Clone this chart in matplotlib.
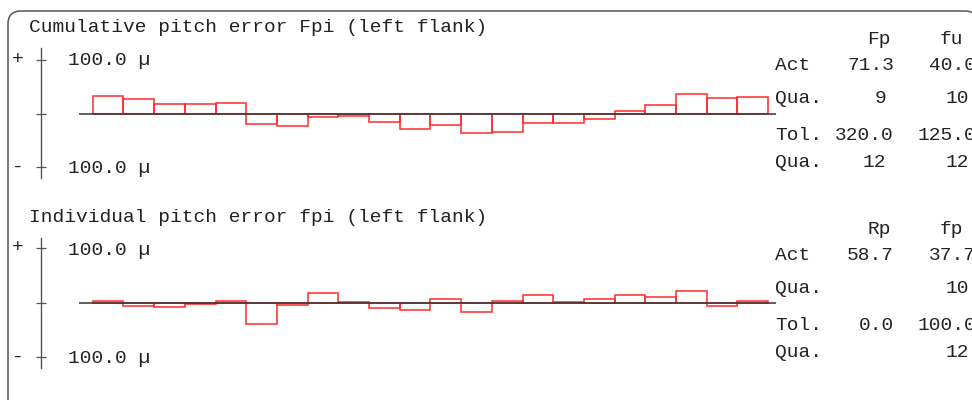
import numpy as np
import matplotlib
matplotlib.use("Agg")
import matplotlib.pyplot as plt
from matplotlib.path import Path
from matplotlib.patches import PathPatch

# odczyty z wykresu (mikrometry), 22 zęby
cum_pitch = [33, 27, 18, 17, 20, -20, -24, -6, -4, -16, -29, -21, -37, -34,
             -18, -17, -10, 4, 15, 37, 29, 31]
ind_pitch = [3, -7, -9, -2, 3, -39, -4, 18, 1, -11, -14, 7, -17, 3,
             14, 1, 7, 13, 11, 21, -7, 2]

titles = ["Cumulative pitch error Fpi (left flank)",
          "Individual pitch error fpi (left flank)"]
scale_label = "100.0 \u00b5"

# tabelki po prawej
row_names = ["Act", "Qua.", "Tol.", "Qua."]
top_cols = ["Fp", "fu"]
top_vals = [["71.3", "40.0"], ["9", "10"], ["320.0", "125.0"], ["12", "12"]]
bot_cols = ["Rp", "fp"]
bot_vals = [["58.7", "37.7"], ["", "10"], ["0.0", "100.0"], ["", "12"]]

W, H = 972, 400
FONT = "Liberation Mono"
FS = 14
TXT = "#222222"
plt.rcParams["font.family"] = [FONT, "DejaVu Sans"]

fig = plt.figure(figsize=(W / 100, H / 100), dpi=100)
fig.patch.set_facecolor("white")

# warstwa w pikselach na ramke i napisy
ov = fig.add_axes([0, 0, 1, 1])
ov.set_xlim(0, W)
ov.set_ylim(H, 0)
ov.axis("off")

# ramka z zaokraglonymi rogami (prawa krawedz poza obrazkiem)
L, T, R, B, r = 8, 11, 978, 440, 13
verts = [(L, B), (L, T + r), (L, T), (L + r, T), (R - r, T), (R, T), (R, T + r), (R, B)]
codes = [Path.MOVETO, Path.LINETO, Path.CURVE3, Path.CURVE3, Path.LINETO,
         Path.CURVE3, Path.CURVE3, Path.LINETO]
ov.add_patch(PathPatch(Path(verts, codes), fill=False, edgecolor="#555555",
                       linewidth=1.1))

n = len(cum_pitch)
bar_x0, bar_w = 92.7, 30.7      # piksel lewej krawędzi pierwszego słupka, szerokość


def panel(values, zero_px, px_per_um, dy, title, cols, vals):
    ax_left, ax_right = 41, 776
    ax_top, ax_bot = 48 + dy, 178 + dy
    ax = fig.add_axes([ax_left / W, 1 - ax_bot / H,
                       (ax_right - ax_left) / W, (ax_bot - ax_top) / H])
    ax.set_xlim(-(bar_x0 - ax_left) / bar_w, (ax_right - bar_x0) / bar_w)
    ax.set_ylim(-(ax_bot - zero_px) / px_per_um, (zero_px - ax_top) / px_per_um)
    ax.patch.set_alpha(0)
    for s in ["top", "right", "bottom"]:
        ax.spines[s].set_visible(False)
    ax.spines["left"].set_color("#555555")
    ax.spines["left"].set_linewidth(1.0)
    ax.set_xticks([])
    ax.set_yticks([-100, 0, 100])
    ax.tick_params(axis="y", direction="inout", length=7.5, width=0.9,
                   color="#555555", labelleft=False)

    ax.bar(np.arange(n), values, width=1.0, align="edge", fill=False,
           edgecolor="#ff2a2a", linewidth=1.1, zorder=2)
    ax.hlines(0, -(bar_x0 - 79) / bar_w, ax.get_xlim()[1],
              color="#333333", linewidth=1.1, zorder=3)

    # napisy
    ov.text(29, 31.7 + dy, title, fontsize=FS, color=TXT, va="baseline", ha="left")
    ov.text(18, zero_px - 100 * px_per_um, "+", fontsize=FS, color=TXT,
            ha="center", va="center")
    ov.text(18, zero_px + 100 * px_per_um, "-", fontsize=FS, color=TXT,
            ha="center", va="center")
    ov.text(68, 65 + dy, scale_label, fontsize=FS, color=TXT, va="baseline")
    ov.text(68, 173 + dy, scale_label, fontsize=FS, color=TXT, va="baseline")

    ov.text(891, 44 + dy, cols[0], fontsize=FS, color=TXT, ha="right", va="baseline")
    ov.text(963, 44 + dy, cols[1], fontsize=FS, color=TXT, ha="right", va="baseline")
    row_y = [70, 103.3, 140, 166.7]
    for name, vv, yy in zip(row_names, vals, row_y):
        ov.text(775, yy + dy, name, fontsize=FS, color=TXT, ha="left", va="baseline")
        for j, v in enumerate(vv):
            is_int = "." not in v
            if j == 0:
                xr = 886 if is_int else 894
            else:
                xr = 969 if is_int else 976
            ov.text(xr, yy + dy, v, fontsize=FS, color=TXT, ha="right", va="baseline")
    return ax


panel(cum_pitch, 113.5, 0.535, 0, titles[0], top_cols, top_vals)
panel(ind_pitch, 302.5, 0.545, 190, titles[1], bot_cols, bot_vals)

fig.savefig("out.png", dpi=100, facecolor="white")
